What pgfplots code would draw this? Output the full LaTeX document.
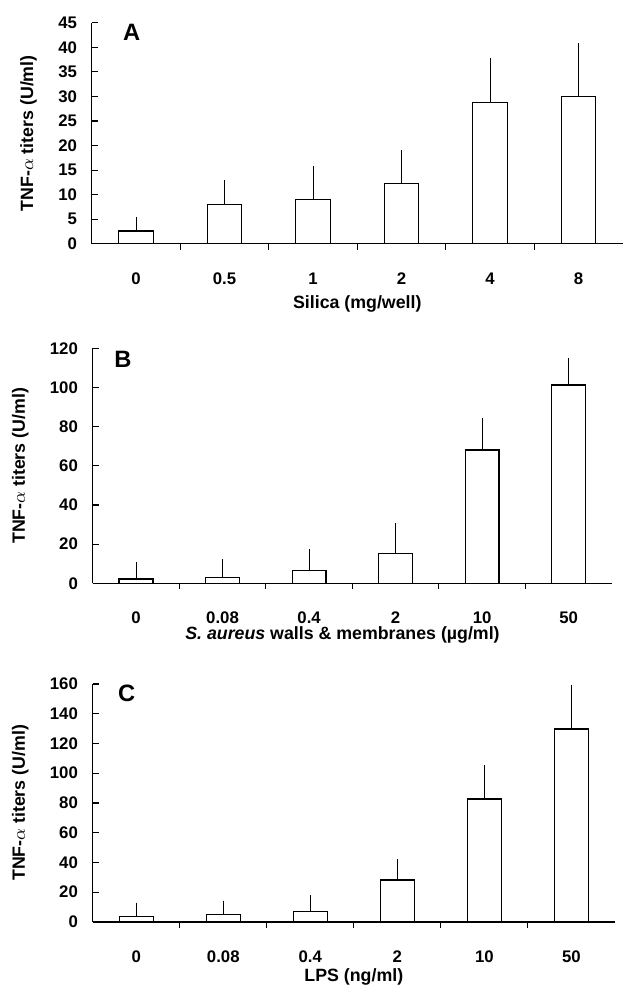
\documentclass[border=0pt]{standalone}
\usepackage{fontspec}
\setmainfont{Liberation Sans}
\usepackage{pgfplots}
\pgfplotsset{compat=1.18}

\tikzset{letter/.style={font=\bfseries\fontsize{12}{13}\selectfont}}

\pgfplotsset{
  panel/.style={
    scale only axis,
    anchor=south west,
    axis x line=bottom, axis y line=left,
    axis line style={-, line width=0.7pt},
    xmin=-0.5, xmax=5.5, ymin=0,
    xtick={0,...,5},
    every major x tick/.append style={draw=none},
    minor xtick={0.5,1.5,2.5,3.5,4.5},
    tick align=inside, major tick length=3pt, minor tick length=3pt,
    tick style={line width=0.6pt, black},
    ybar, bar width=0.39,
    /pgf/number format/assume math mode=true,
    ticklabel style={font=\bfseries\fontsize{8.5}{10}\selectfont},
    xticklabel style={yshift=-8pt},
    yticklabel style={xshift=-4pt},
    ylabel={TNF-$\alpha$ titers (U/ml)},
    label style={font=\bfseries\fontsize{9}{11}\selectfont},
    ylabel style={yshift=4pt},
    xlabel style={at={(axis description cs:0.5,0)}, anchor=center},
  },
  bars/.style={fill=white, draw=black, line width=0.7pt,
    error bars/.cd, y dir=plus, y explicit,
    error bar style={line width=0.5pt},
    error mark options={mark size=1.2pt, line width=0.5pt}},
}

\begin{document}
\begin{tikzpicture}
\path (0,0) rectangle (315.5pt,-496pt);

% A: silica
\begin{axis}[panel, at={(46.5pt,-123.5pt)}, width=269pt, height=112pt,
  ymax=45, ytick={0,5,...,45},
  xticklabels={0,0.5,1,2,4,8},
  xlabel={Silica (mg/well)}, xlabel style={yshift=-30.5pt}]
\addplot[bars] coordinates {
  (0,2.6) +- (0,2.4)
  (1,8.0) +- (0,4.4)
  (2,9.0) +- (0,6.4)
  (3,12.3) +- (0,6.3)
  (4,28.8) +- (0,8.6)
  (5,30.0) +- (0,10.3)
};
\node[letter] at (axis description cs:0.075,0.955) {A};
\end{axis}

% B: S. aureus walls & membranes
\begin{axis}[panel, at={(47pt,-295.5pt)}, width=263pt, height=119pt,
  ymax=120, ytick={0,20,...,120},
  xticklabels={0,0.08,0.4,2,10,50},
  xlabel={\textit{S. aureus} walls \& membranes (µg/ml)},
  xlabel style={yshift=-26pt, xshift=-5pt}]
\addplot[bars] coordinates {
  (0,2.2) +- (0,7.5)
  (1,2.9) +- (0,8.3)
  (2,6.4) +- (0,9.9)
  (3,15.3) +- (0,14.4)
  (4,68.1) +- (0,15.1)
  (5,101.3) +- (0,12.7)
};
\node[letter] at (axis description cs:0.058,0.955) {B};
\end{axis}

% C: LPS
\begin{axis}[panel, at={(47pt,-467pt)}, width=264.5pt, height=120.5pt,
  ymax=160, ytick={0,20,...,160},
  xticklabels={0,0.08,0.4,2,10,50},
  xlabel={LPS (ng/ml)}, xlabel style={yshift=-28pt}]
\addplot[bars] coordinates {
  (0,3.8) +- (0,7.5)
  (1,5.1) +- (0,7.6)
  (2,6.9) +- (0,9.3)
  (3,28.2) +- (0,12.5)
  (4,82.7) +- (0,20.9)
  (5,129.8) +- (0,28.2)
};
\node[letter] at (axis description cs:0.065,0.96) {C};
\end{axis}
\end{tikzpicture}
\end{document}
